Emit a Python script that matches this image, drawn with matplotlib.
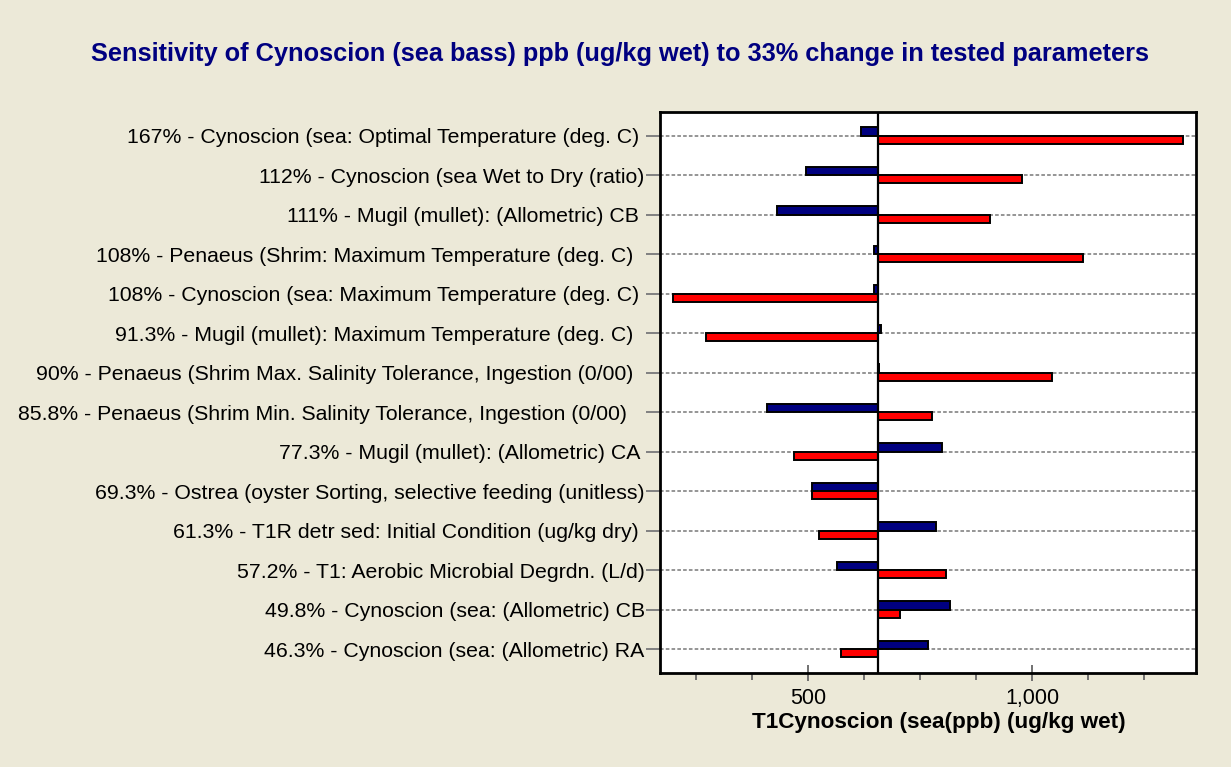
import numpy as np
from matplotlib import pyplot as plt
from matplotlib.ticker import FixedLocator, FuncFormatter

# data
labels = [
    "167% - Cynoscion (sea: Optimal Temperature (deg. C) ",
    "112% - Cynoscion (sea Wet to Dry (ratio)",
    "111% - Mugil (mullet): (Allometric) CB ",
    "108% - Penaeus (Shrim: Maximum Temperature (deg. C)  ",
    "108% - Cynoscion (sea: Maximum Temperature (deg. C) ",
    "91.3% - Mugil (mullet): Maximum Temperature (deg. C)  ",
    "90% - Penaeus (Shrim Max. Salinity Tolerance, Ingestion (0/00)  ",
    "85.8% - Penaeus (Shrim Min. Salinity Tolerance, Ingestion (0/00)   ",
    "77.3% - Mugil (mullet): (Allometric) CA ",
    "69.3% - Ostrea (oyster Sorting, selective feeding (unitless)",
    "61.3% - T1R detr sed: Initial Condition (ug/kg dry) ",
    "57.2% - T1: Aerobic Microbial Degrdn. (L/d)",
    "49.8% - Cynoscion (sea: (Allometric) CB",
    "46.3% - Cynoscion (sea: (Allometric) RA",
]
base = 656
low_vals = [617, 495, 430, 648, 648, 662, 658, 408, 798, 508, 785, 564, 816, 767]   # blue
high_vals = [1337, 977, 907, 1113, 197, 272, 1044, 776, 468, 508, 525, 807, 706, 574]  # red
major_ticks = [500, 1000]
minor_ticks = [250, 375, 625, 750, 875, 1125, 1250]

bg = "#ECE9D8"
navy = "#000080"

fig = plt.figure(figsize=(12.31, 7.67), dpi=100, facecolor=bg)
ax = fig.add_axes([660 / 1231, 94.3 / 767, 536 / 1231, 560.7 / 767])
ax.set_facecolor("white")

y = np.arange(len(labels))
h = 0.21
low = np.array(low_vals) - base
high = np.array(high_vals) - base

for yy in y:
    ax.axhline(yy, color="#8c8c8c", lw=1.3, ls=(0, (2, 1.2)), zorder=1)

ax.barh(y - h / 2, low, left=base, height=h, color=navy,
        edgecolor="black", linewidth=1.4, zorder=3)
ax.barh(y + h / 2, high, left=base, height=h, color="#FF0000",
        edgecolor="black", linewidth=1.4, zorder=3)
ax.axvline(base, color="black", lw=1.6, zorder=4)

ax.set_xlim(169, 1366)
ax.set_ylim(len(labels) - 0.4, -0.6)

ax.set_yticks(y)
ax.set_yticklabels(labels, fontsize=15.3, family="Liberation Sans")
ax.tick_params(axis="y", length=10, width=1.4, color="#808080", pad=1)

ax.xaxis.set_major_locator(FixedLocator(major_ticks))
ax.xaxis.set_minor_locator(FixedLocator(minor_ticks))
ax.xaxis.set_major_formatter(FuncFormatter(lambda v, p: f"{v:,.0f}"))
ax.tick_params(axis="x", which="major", direction="inout", length=12,
               width=1.3, color="#666666", labelsize=15.5, pad=5)
ax.tick_params(axis="x", which="minor", direction="out", length=5,
               width=1.3, color="#666666")
for t in ax.get_xticklabels():
    t.set_family("Liberation Sans")

for s in ax.spines.values():
    s.set_linewidth(2)
    s.set_color("black")

ax.set_xlabel("T1Cynoscion (sea(ppb) (ug/kg wet)", fontsize=16.2, fontweight="bold",
              family="Liberation Sans", labelpad=2)
ax.xaxis.label.set_position((0.52, 0))

fig.text(620 / 1231, 1 - 54 / 767, "Sensitivity of Cynoscion (sea bass) ppb (ug/kg wet) to 33% change in tested parameters",
         ha="center", va="center", fontsize=18.3, fontweight="bold", color=navy,
         family="Liberation Sans")

fig.savefig("out.png", dpi=100, facecolor=bg)
